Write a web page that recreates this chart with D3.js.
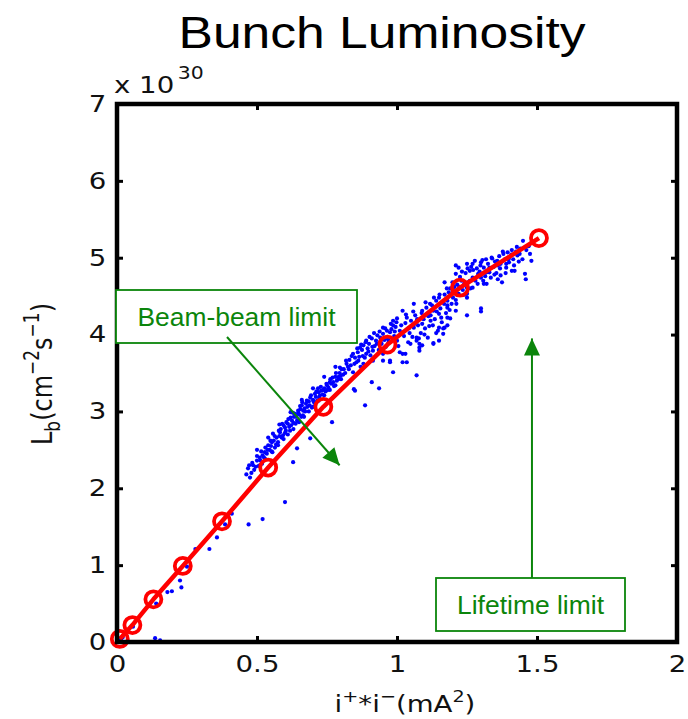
<!DOCTYPE html>
<html>
<head>
<meta charset="utf-8">
<script src="https://cdn.jsdelivr.net/npm/d3@7"></script>
<style>
  html, body { margin: 0; padding: 0; background: #fff; }
  svg { display: block; }
</style>
</head>
<body>
<svg id="chart" width="688" height="719"></svg>
<script>
// Fitted bunch luminosity curve (units of 1e30 cm^-2 s^-1) against i+ * i- (mA^2)
const fitCurrent = [0.01, 0.055, 0.13, 0.235, 0.375, 0.54, 0.737, 0.966, 1.225, 1.507];
const fitLumi    = [0.04, 0.22, 0.555, 0.99, 1.57, 2.27, 3.06, 3.87, 4.61, 5.255];

// Measured single-bunch luminosities
const shotCurrent = [
  0.014, 0.02, 0.057, 0.136, 0.154, 0.14, 0.18, 0.196, 0.23, 0.225, 0.25, 0.28, 0.33, 0.357, 0.386, 0.41, 0.47, 0.52, 0.60,
  0.629, 0.643, 0.69, 0.768, 0.85, 0.886, 0.846, 0.91, 0.936, 0.986, 1.07,
  0.468, 0.475, 0.486, 0.50, 0.518, 0.52, 0.528, 0.54, 0.553, 0.557, 0.564, 0.57, 0.582, 0.59, 0.593, 0.60, 0.61, 0.618, 0.625, 0.629,
  0.636, 0.643, 0.647, 0.654, 0.66, 0.664, 0.67, 0.69, 0.696, 0.707, 0.718, 0.725, 0.75, 0.76, 0.785,
  0.48, 0.49, 0.505, 0.51, 0.535, 0.545, 0.55, 0.56, 0.575, 0.58, 0.585, 0.6, 0.605, 0.615, 0.62, 0.63, 0.64, 0.65, 0.655, 0.665,
  0.675, 0.68, 0.685, 0.70, 0.705, 0.71, 0.715, 0.72, 0.73, 0.735, 0.74, 0.745, 0.755, 0.765, 0.77, 0.775, 0.78, 0.79, 0.795, 0.80,
  0.796, 0.82, 0.843, 0.843, 0.868, 0.88, 0.89, 0.89, 0.914, 0.914, 0.93, 0.95, 0.95, 0.964, 0.975, 0.986, 1.0, 0.95, 0.95, 0.975,
  0.986, 1.0, 0.975, 1.01,
  0.81, 0.815, 0.825, 0.83, 0.835, 0.85, 0.855, 0.86, 0.865, 0.87, 0.875, 0.88, 0.885, 0.895, 0.90, 0.905, 0.91, 0.92, 0.925, 0.935,
  0.94, 0.945, 0.955, 0.96, 0.965, 0.97, 0.98, 0.99, 0.995,
  1.02, 1.035, 1.03, 1.02, 1.04, 1.07, 1.09, 1.08, 1.08, 1.11, 1.13, 1.15, 1.165, 1.146, 1.18, 1.19, 1.21, 1.25, 1.06, 1.035,
  1.09, 1.06, 1.02, 1.09, 1.12, 1.15, 1.18, 1.2, 1.13, 1.12, 1.18, 1.14, 1.18, 1.165, 1.15, 1.07, 1.08, 1.13, 1.15, 1.17,
  1.19, 1.18, 1.17, 1.21,
  1.01, 1.03, 1.045, 1.05, 1.055, 1.065, 1.075, 1.085, 1.095, 1.10, 1.105, 1.115, 1.125, 1.135, 1.14, 1.155, 1.16, 1.17, 1.175, 1.185,
  1.195, 1.205, 1.21,
  1.21, 1.22, 1.25, 1.26, 1.27, 1.27, 1.29, 1.30, 1.31, 1.32, 1.33, 1.34, 1.375, 1.38, 1.39, 1.40, 1.42, 1.45, 1.457, 1.46,
  1.48, 1.30, 1.30, 1.25, 1.25, 1.25, 1.27, 1.24, 1.26, 1.30, 1.31, 1.32, 1.36, 1.39, 1.40, 1.43, 1.21, 1.33, 1.36, 1.37,
  1.29, 1.41, 1.22, 1.23,
  1.215, 1.225, 1.235, 1.245, 1.255, 1.265, 1.28, 1.285, 1.295, 1.305, 1.315, 1.325, 1.335, 1.345, 1.35, 1.355, 1.365, 1.37, 1.385, 1.395,
  1.41, 1.415, 1.425, 1.44, 1.435, 1.47,
  0.462, 0.472, 0.483, 0.495, 0.50, 0.512, 0.515, 0.525, 0.53, 0.538, 0.548, 0.552, 0.563, 0.568, 0.578, 0.588, 0.595, 0.603, 0.612, 0.622,
  0.632, 0.638, 0.648, 0.658, 0.662, 0.672, 0.678, 0.688, 0.693, 0.702, 0.712, 0.722, 0.728, 0.738, 0.748, 0.752, 0.762, 0.772, 0.782, 0.792,
  0.802, 0.808,
  0.818, 0.828, 0.838, 0.848, 0.858, 0.862, 0.872, 0.878, 0.888, 0.898, 0.902, 0.912, 0.918, 0.928, 0.938, 0.942, 0.958, 0.968, 0.978, 0.992,
  0.998,
  1.005, 1.015, 1.025, 1.032, 1.042, 1.048, 1.058, 1.062, 1.072, 1.078, 1.088, 1.098, 1.102, 1.112, 1.118, 1.128, 1.132, 1.142, 1.152, 1.158,
  1.168, 1.178, 1.188, 1.198,
  1.212, 1.222, 1.232, 1.242, 1.252, 1.262, 1.272, 1.278, 1.288, 1.298, 1.308, 1.318, 1.328, 1.338, 1.348, 1.358, 1.368, 1.378, 1.388, 1.398,
  1.408, 1.418, 1.428, 1.438, 1.448, 1.462, 1.475,
  0.51, 0.53, 0.555, 0.575, 0.595, 0.61, 0.63, 0.65, 0.668, 0.685, 0.70, 0.72, 0.74, 0.76, 0.78, 0.80,
  0.50, 0.54, 0.58, 0.62, 0.66, 0.70, 0.74, 0.78
];
const shotLumi = [
  0.03, 0.06, 0.20, 0.05, 0.02, 0.50, 0.65, 0.66, 0.71, 0.80, 0.98, 1.21, 1.21, 1.36, 1.53, 1.67, 1.53, 1.60, 1.82,
  2.34, 2.52, 2.65, 2.86, 3.27, 3.08, 3.29, 3.38, 3.30, 3.51, 3.47,
  2.26, 2.14, 2.30, 2.36, 2.32, 2.43, 2.47, 2.56, 2.60, 2.71, 2.53, 2.66, 2.73, 2.84, 2.69, 2.79, 2.84, 2.75, 2.88, 2.98,
  2.97, 2.88, 3.01, 3.07, 3.08, 2.95, 3.04, 3.18, 3.05, 3.23, 3.30, 3.21, 3.34, 3.38, 3.40,
  2.20, 2.24, 2.29, 2.40, 2.45, 2.50, 2.55, 2.62, 2.60, 2.68, 2.77, 2.72, 2.86, 2.80, 2.92, 2.85, 2.93, 2.96, 3.03, 3.01,
  3.10, 3.06, 3.13, 3.15, 3.11, 3.19, 3.14, 3.25, 3.27, 3.22, 3.30, 3.26, 3.31, 3.36, 3.44, 3.33, 3.45, 3.42, 3.50, 3.47,
  3.57, 3.62, 3.75, 3.51, 3.83, 3.62, 3.92, 3.75, 3.79, 3.66, 3.99, 3.75, 3.66, 4.05, 3.66, 4.12, 4.21, 4.09, 4.01, 4.03,
  4.18, 3.92, 3.64, 3.77,
  3.55, 3.50, 3.58, 3.67, 3.60, 3.70, 3.64, 3.77, 3.71, 3.58, 3.80, 3.86, 3.70, 3.82, 3.88, 3.73, 3.95, 3.85, 3.92, 3.80,
  3.96, 3.88, 3.93, 3.84, 3.97, 3.90, 4.07, 3.98, 4.10,
  3.64, 3.64, 3.75, 3.75, 3.90, 3.96, 3.86, 3.79, 3.88, 3.96, 3.89, 3.92, 4.01, 4.05, 4.12, 4.21, 4.31, 4.25, 4.09, 4.22,
  4.31, 4.40, 4.31, 4.14, 4.18, 4.27, 4.35, 4.48, 4.31, 4.25, 4.22, 4.44, 4.44, 4.08, 4.09, 3.92, 3.83, 3.88, 4.48, 4.68,
  4.60, 4.38, 4.09, 4.57,
  4.05, 4.15, 4.02, 4.18, 3.97, 4.25, 4.12, 4.02, 4.20, 4.08, 4.35, 4.11, 4.38, 4.20, 4.02, 4.34, 4.16, 4.52, 4.28, 4.55,
  4.40, 4.62, 4.45,
  4.79, 4.87, 4.92, 4.83, 4.92, 4.74, 4.79, 4.94, 4.87, 4.66, 4.81, 4.99, 4.68, 5.05, 4.92, 4.94, 4.83, 5.22, 4.79, 4.72,
  4.96, 4.34, 4.30, 4.48, 4.53, 4.61, 4.61, 4.66, 4.70, 4.74, 4.66, 4.81, 4.72, 4.87, 5.00, 5.03, 4.90, 4.87, 4.90, 4.77,
  4.77, 4.83, 4.53, 4.70,
  4.65, 4.75, 4.58, 4.80, 4.68, 4.88, 4.70, 4.86, 4.82, 4.97, 4.76, 4.92, 4.74, 4.88, 4.95, 4.80, 5.02, 4.92, 4.98, 5.07,
  5.10, 4.98, 5.08, 5.12, 4.95, 5.15,
  2.18, 2.30, 2.33, 2.28, 2.42, 2.36, 2.48, 2.40, 2.53, 2.50, 2.62, 2.48, 2.68, 2.57, 2.75, 2.66, 2.82, 2.75, 2.90, 2.82,
  2.93, 2.84, 2.98, 2.93, 3.12, 3.00, 3.14, 3.08, 3.21, 3.13, 3.26, 3.18, 3.32, 3.28, 3.36, 3.28, 3.42, 3.38, 3.50, 3.45,
  3.55, 3.48,
  3.66, 3.55, 3.72, 3.62, 3.82, 3.66, 3.87, 3.72, 3.90, 3.78, 3.97, 3.84, 4.02, 3.88, 4.04, 3.92, 4.08, 3.94, 4.14, 4.04,
  4.16,
  3.85, 4.12, 3.98, 4.26, 4.08, 3.88, 4.30, 4.14, 4.20, 3.95, 4.28, 4.00, 4.42, 4.24, 4.40, 4.12, 4.48, 4.30, 4.52, 4.22,
  4.40, 4.60, 4.32, 4.68,
  4.40, 4.62, 4.82, 4.52, 4.86, 4.60, 4.84, 4.96, 4.66, 4.90, 4.70, 4.98, 4.84, 5.00, 4.78, 4.96, 4.86, 5.08, 4.80, 4.98,
  5.04, 4.90, 5.14, 5.05, 4.98, 5.10, 5.05,
  2.30, 2.38, 2.47, 2.56, 2.64, 2.70, 2.77, 2.86, 2.93, 3.00, 3.06, 3.14, 3.21, 3.28, 3.34, 3.42,
  2.50, 2.66, 2.83, 2.99, 3.15, 3.30, 3.45, 3.58
];

const xTicks = [0, 0.5, 1, 1.5, 2];
const yTicks = [0, 1, 2, 3, 4, 5, 6, 7];

const svg = d3.select("#chart");
const plot = { left: 117, right: 677, top: 104, bottom: 642 };

const x = d3.scaleLinear().domain([0, 2]).range([plot.left, plot.right]);
const y = d3.scaleLinear().domain([0, 7]).range([plot.bottom, plot.top]);

const tickFont = "'DejaVu Sans', sans-serif";
const green = "#0b850b";
const wide = 1.2; // horizontal widening used for the axis lettering

// Title
svg.append("text")
  .attr("x", 382).attr("y", 48)
  .attr("text-anchor", "middle")
  .attr("font-family", "'Liberation Sans', Arial, sans-serif")
  .attr("font-size", 44)
  .attr("textLength", 407).attr("lengthAdjust", "spacingAndGlyphs")
  .text("Bunch Luminosity");

// Scatter of measured points
const shots = shotCurrent.map((c, i) => ({ c, l: shotLumi[i] }));
svg.append("g")
  .selectAll("circle")
  .data(shots)
  .join("circle")
  .attr("cx", d => x(d.c))
  .attr("cy", d => y(d.l))
  .attr("r", 2.1)
  .attr("fill", "#0000ff");

// Fitted curve with ring markers
const fit = fitCurrent.map((c, i) => ({ c, l: fitLumi[i] }));
svg.append("path")
  .datum(fit)
  .attr("fill", "none")
  .attr("stroke", "#ff0000")
  .attr("stroke-width", 4.5)
  .attr("stroke-linejoin", "round")
  .attr("d", d3.line().x(d => x(d.c)).y(d => y(d.l)));
svg.append("g")
  .selectAll("circle")
  .data(fit)
  .join("circle")
  .attr("cx", d => x(d.c))
  .attr("cy", d => y(d.l))
  .attr("r", 8)
  .attr("fill", "none")
  .attr("stroke", "#ff0000")
  .attr("stroke-width", 3.8);

// Axes: inward ticks on all four sides, labels on left and bottom
function styleAxis(g) {
  g.select(".domain").remove();
  g.selectAll(".tick line").attr("stroke", "#000").attr("stroke-width", 3);
  g.selectAll(".tick text")
    .attr("font-family", tickFont)
    .attr("font-size", 23)
    .attr("fill", "#111")
    .attr("transform", `scale(${wide},1)`);
}
svg.append("g")
  .attr("transform", `translate(0,${plot.bottom})`)
  .call(d3.axisBottom(x).tickValues(xTicks).tickFormat(d => String(d)).tickSize(-6).tickPadding(14))
  .call(styleAxis);
svg.append("g")
  .attr("transform", `translate(${plot.left},0)`)
  .call(d3.axisLeft(y).tickValues(yTicks).tickFormat(d => String(d)).tickSize(-6).tickPadding(9))
  .call(styleAxis);
svg.append("g")
  .attr("transform", `translate(0,${plot.top})`)
  .call(d3.axisTop(x).tickValues(xTicks).tickFormat("").tickSize(-6))
  .call(styleAxis);
svg.append("g")
  .attr("transform", `translate(${plot.right},0)`)
  .call(d3.axisRight(y).tickValues(yTicks).tickFormat("").tickSize(-6))
  .call(styleAxis);

// Axes box
svg.append("rect")
  .attr("x", plot.left).attr("y", plot.top)
  .attr("width", plot.right - plot.left).attr("height", plot.bottom - plot.top)
  .attr("fill", "none").attr("stroke", "#000").attr("stroke-width", 4.5);

// Exponent above the y axis
const expo = svg.append("text")
  .attr("transform", `translate(114,93) scale(${wide},1)`)
  .attr("font-family", tickFont).attr("fill", "#111");
expo.append("tspan").attr("font-size", 23).text("x 10");
expo.append("tspan").attr("font-size", 17).attr("dx", 3).attr("dy", -14).text("30");

// X axis label: i+*i-(mA^2)
const xl = svg.append("text")
  .attr("transform", `translate(405,712) scale(${wide},1)`)
  .attr("text-anchor", "middle")
  .attr("font-family", tickFont).attr("font-size", 23).attr("fill", "#111");
xl.append("tspan").text("i");
xl.append("tspan").attr("font-size", 16).attr("dy", -10).text("+");
xl.append("tspan").attr("dy", 10).text("*i");
xl.append("tspan").attr("font-size", 16).attr("dy", -10).text("\u2212");
xl.append("tspan").attr("dy", 10).text("(mA");
xl.append("tspan").attr("font-size", 16).attr("dy", -10).text("2");
xl.append("tspan").attr("dy", 10).text(")");

// Y axis label: L_b(cm^-2 s^-1)
const yl = svg.append("text")
  .attr("transform", `translate(52,374) scale(${wide},1) rotate(-90)`)
  .attr("text-anchor", "middle")
  .attr("font-family", tickFont).attr("font-size", 24).attr("fill", "#111");
yl.append("tspan").text("L");
yl.append("tspan").attr("font-size", 17).attr("dy", 7).text("b");
yl.append("tspan").attr("dy", -7).text("(cm");
yl.append("tspan").attr("font-size", 17).attr("dy", -11).text("\u22122");
yl.append("tspan").attr("dy", 11).text("s");
yl.append("tspan").attr("font-size", 17).attr("dy", -11).text("\u22121");
yl.append("tspan").attr("dy", 11).text(")");

// Annotation arrows and labelled boxes
function arrow(x1, y1, x2, y2) {
  svg.append("line")
    .attr("x1", x1).attr("y1", y1).attr("x2", x2).attr("y2", y2)
    .attr("stroke", green).attr("stroke-width", 2);
  const a = Math.atan2(y2 - y1, x2 - x1), len = 17, half = 8;
  const bx = x2 - len * Math.cos(a), by = y2 - len * Math.sin(a);
  const pts = [
    [x2, y2],
    [bx + half * Math.sin(a), by - half * Math.cos(a)],
    [bx - half * Math.sin(a), by + half * Math.cos(a)]
  ];
  svg.append("polygon").attr("points", pts.map(p => p.join(",")).join(" ")).attr("fill", green);
}
function labelBox(x0, y0, w, h, label, len) {
  svg.append("rect")
    .attr("x", x0).attr("y", y0).attr("width", w).attr("height", h)
    .attr("fill", "#fff").attr("stroke", green).attr("stroke-width", 1.8);
  svg.append("text")
    .attr("x", x0 + w / 2).attr("y", y0 + h / 2 + 9)
    .attr("text-anchor", "middle")
    .attr("font-family", "'Liberation Sans', Arial, sans-serif")
    .attr("font-size", 26).attr("fill", green)
    .attr("textLength", len).attr("lengthAdjust", "spacingAndGlyphs")
    .text(label);
}

labelBox(116, 290, 241, 53, "Beam-beam limit", 198);
arrow(227, 337, x(0.795), y(2.3));

labelBox(436, 578, 189, 53, "Lifetime limit", 147);
arrow(x(1.482), 578, x(1.482), y(3.95));
</script>
</body>
</html>
